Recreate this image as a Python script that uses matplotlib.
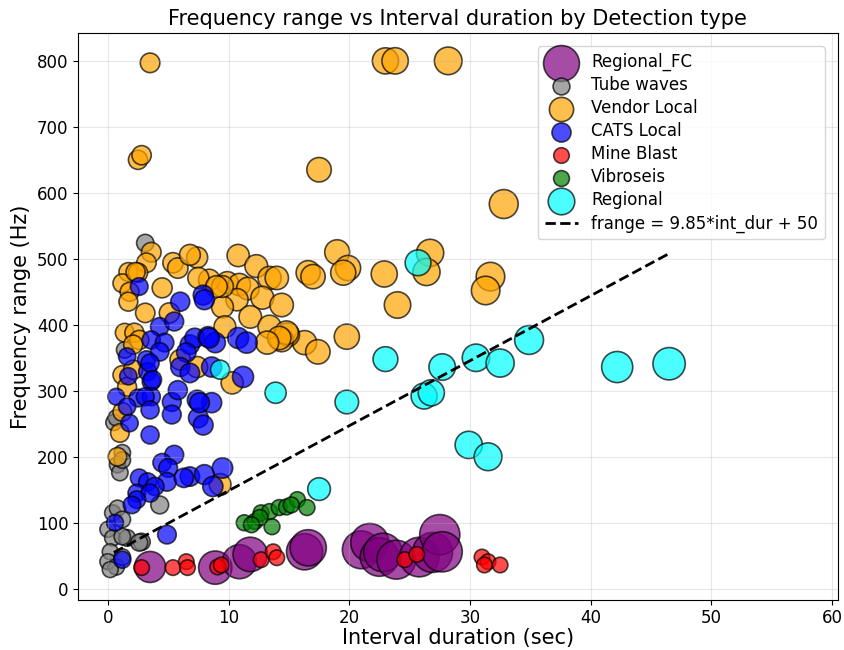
import numpy as np
import matplotlib
matplotlib.use('Agg')
import matplotlib.pyplot as plt

# interval duration (sec), frequency range (Hz) per detection type
rfc_x = [3.5, 8.9, 10.9, 11.8, 16.3, 16.6, 21.0, 21.7, 22.5, 22.8, 23.9, 25.8, 26.9, 27.5, 27.7]
rfc_y = [33, 32, 41, 52, 56, 62, 59, 70, 48, 55, 44, 48, 55, 82, 56]

tube_x = [3.1, 0.5, 0.7, 1.4, 1.2, 0.8, 1.0, 1.2, 0.4, 0.8, 1.2, 0.0, 4.3, 0.4, 1.6, 2.8, 0.2, 0.0, 0.7, 0.2, 1.2, 1.2, 2.6]
tube_y = [524, 252, 259, 362, 206, 188, 176, 195, 115, 122, 105, 90, 127, 77, 77, 71, 56, 41, 33, 29, 48, 79, 70]

vend_x = [3.5, 23.0, 23.8, 28.2, 2.5, 2.8, 17.5, 32.8, 26.7, 26.4, 31.7, 31.3, 24.0, 22.9,
          19.0, 19.9, 19.5, 16.6, 17.0, 19.8, 16.3, 17.4, 14.9, 14.4, 7.4, 10.8, 12.3, 13.4,
          14.0, 9.9, 10.9, 11.6, 10.7, 9.5, 12.8, 14.4, 11.8, 13.4, 14.8, 14.2, 13.2, 8.4,
          7.5, 9.5, 9.0, 9.7, 3.6, 3.2, 1.7, 2.5, 1.2, 1.8, 1.7, 4.5, 3.1, 5.1, 5.4, 5.8,
          6.8, 1.4, 2.2, 2.6, 2.1, 1.2, 1.6, 2.1, 1.2, 1.0, 0.8, 9.3, 10.3, 6.0, 7.4, 2.3]
vend_y = [797, 800, 800, 800, 650, 657, 635, 583, 509, 480, 473, 452, 430, 477,
          510, 486, 479, 479, 473, 382, 373, 359, 385, 377, 502, 505, 489, 471,
          471, 464, 461, 455, 438, 427, 441, 430, 412, 397, 388, 380, 373, 468,
          471, 458, 458, 397, 510, 494, 480, 479, 463, 450, 435, 456, 418, 418, 494, 486,
          506, 388, 388, 377, 370, 324, 306, 332, 268, 236, 200, 158, 312, 347, 336, 480]

cats_x = [2.6, 6.0, 7.9, 8.0, 4.3, 5.5, 3.6, 4.7, 6.8, 7.2, 8.3, 8.9, 8.4, 10.8, 11.5,
          1.6, 3.2, 4.3, 6.5, 6.0, 6.8, 8.6, 11.2, 3.3, 3.6, 2.5, 0.7, 1.6, 3.6, 5.3,
          5.8, 7.5, 8.6, 7.4, 5.3, 1.7, 3.5, 3.7, 3.1, 3.5, 1.8, 3.5, 7.6, 7.9,
          5.5, 4.5, 5.0, 2.6, 3.3, 4.9, 6.8, 8.0, 9.5, 8.7, 2.4, 3.9, 3.5, 2.4, 2.0,
          0.6, 1.2, 4.9, 6.3]
cats_y = [458, 435, 445, 438, 397, 405, 377, 373, 370, 380, 382, 373, 380, 380, 373,
          352, 347, 359, 358, 336, 327, 336, 321, 329, 314, 289, 291, 276, 291, 283,
          301, 259, 282, 286, 264, 322, 342, 317, 291, 271, 251, 233, 282, 248,
          203, 191, 183, 168, 162, 162, 170, 173, 183, 155, 145, 155, 145, 135, 127,
          100, 44, 82, 168]

mine_x = [2.8, 5.4, 6.5, 6.6, 9.1, 9.4, 12.7, 13.7, 14.0, 24.6, 25.6, 31.0, 31.5, 32.5, 31.2]
mine_y = [32, 32, 41, 32, 33, 36, 44, 56, 47, 44, 52, 48, 41, 36, 36]

vib_x = [11.3, 12.2, 12.7, 13.4, 14.2, 14.8, 15.7, 16.5, 13.6, 12.6, 11.9, 15.2]
vib_y = [100, 102, 115, 117, 123, 124, 135, 123, 94, 108, 97, 127]

reg_x = [25.7, 9.3, 13.9, 19.8, 23.0, 27.7, 30.5, 32.5, 34.9, 42.2, 46.5, 26.2, 26.8, 29.9, 31.5, 17.5]
reg_y = [494, 332, 297, 283, 348, 336, 350, 342, 377, 336, 341, 292, 297, 218, 200, 151]

fit_start = 0.5

fig = plt.figure(figsize=(8.44, 6.5), dpi=100)
ax = fig.add_subplot(111)
fig.subplots_adjust(left=0.092, right=0.993, top=0.949, bottom=0.077)

def sc(x, y, color, label, base, slope):
    x = np.array(x)
    ax.scatter(x, y, s=base + slope*x, c=color, alpha=0.7, edgecolors='black',
               linewidths=1.2, label=label)

sc(rfc_x, rfc_y, 'purple', 'Regional_FC', 450, 14)
sc(tube_x, tube_y, 'gray', 'Tube waves', 130, 8)
sc(vend_x, vend_y, 'orange', 'Vendor Local', 170, 8)
sc(cats_x, cats_y, 'blue', 'CATS Local', 140, 8)
sc(mine_x, mine_y, 'red', 'Mine Blast', 125, 0)
sc(vib_x, vib_y, 'green', 'Vibroseis', 130, 0)
sc(reg_x, reg_y, 'cyan', 'Regional', 100, 9.5)

all_x = np.concatenate([rfc_x, tube_x, vend_x, cats_x, mine_x, vib_x, reg_x])
line_x = np.linspace(fit_start, all_x.max(), 50)
ax.plot(line_x, 9.85*line_x + 50, 'k--', linewidth=2, label='frange = 9.85*int_dur + 50')

ax.set_xlim(-2.5, 60.5)
ax.set_ylim(-17, 842)
ax.set_xticks(range(0, 61, 10))
ax.set_yticks(range(0, 801, 100))
ax.grid(True, alpha=0.3)
ax.tick_params(labelsize=12, pad=3)
ax.set_title('Frequency range vs Interval duration by Detection type', fontsize=15)
ax.set_xlabel('Interval duration (sec)', fontsize=15, labelpad=1)
ax.set_ylabel('Frequency range (Hz)', fontsize=15)
ax.legend(loc='upper right', fontsize=12, scatterpoints=1, borderaxespad=0.8,
          labelspacing=0.3)

plt.savefig('out.png')
